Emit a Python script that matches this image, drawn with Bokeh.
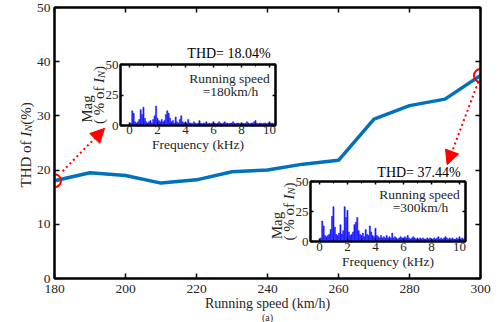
import math
from bokeh.plotting import figure
from bokeh.models import Label, Arrow, NormalHead, LinearAxis, FixedTicker, Range1d, ColumnDataSource
from bokeh.embed import file_html
from bokeh.resources import INLINE

# ---------------- data ----------------
speed = [180, 190, 200, 210, 220, 230, 240, 250, 260, 270, 280, 290, 300]
thd = [18.04, 19.5, 19.0, 17.6, 18.2, 19.7, 20.0, 21.1, 21.8, 29.4, 31.9, 33.1, 37.44]
x_ticks = [180, 200, 220, 240, 260, 280, 300]
y_ticks = [0, 10, 20, 30, 40, 50]

freq_khz = [round(0.1 * i, 1) for i in range(105)]
mag_180 = [0.5, 2, 12, 10, 3, 2, 3, 5, 13, 9,
           15, 6, 3, 2, 3, 4, 2, 5, 8, 16,
           6, 4, 3, 5, 3, 4, 9, 12, 10, 6,
           3, 4, 2, 7, 3, 2, 5, 8, 3, 2,
           3, 2, 5, 2, 2, 1.5, 3, 2, 1.5, 2,
           4, 2, 1.5, 2, 2, 3, 1.5, 2, 1.5, 2,
           3, 2, 1.5, 2, 3, 2, 1.5, 2, 3, 2,
           2, 1.5, 2, 2, 3, 2, 1.5, 2, 2, 1.5,
           2, 2, 1.5, 2, 3, 2, 1.5, 2, 2, 3,
           4, 2, 1.5, 2, 2, 1.5, 2, 2, 1.5, 2,
           3, 2, 2, 1.5, 2]
mag_300 = [0.5, 3, 17, 13, 5, 4, 5, 6, 10, 21,
           29, 12, 6, 5, 7, 14, 6, 9, 29, 20,
           26, 8, 5, 6, 8, 14, 16, 20, 9, 6,
           5, 7, 4, 10, 6, 5, 13, 8, 5, 4,
           11, 5, 4, 3, 5, 3, 4, 3, 5, 3,
           4, 3, 7, 3, 4, 3, 2, 3, 4, 3,
           3, 4, 3, 5, 3, 2, 3, 4, 3, 2,
           3, 2, 3, 2, 3, 2, 2, 3, 2, 3,
           2, 2, 3, 2, 3, 4, 2, 3, 2, 3,
           4, 3, 2, 3, 2, 3, 2, 2, 3, 2,
           4, 2, 3, 2, 3]
inset_x_ticks = [0, 2, 4, 6, 8, 10]
inset_x_minor = [1, 3, 5, 7, 9]
inset_y_ticks = [0, 25, 50]

FONT = "Liberation Serif"
TXT = "#262626"
LINE_BLUE = "#0072BD"
BAR_BLUE = "#1a1aff"
CW, CH = 500, 322

# approximate Times advance widths (per 1000 em) for rich-text layout
W = {" ": 250, "(": 333, ")": 333, "%": 833, "T": 611, "H": 722, "D": 722,
     "o": 500, "f": 333, "I": 333, "N": 667, "M": 889, "a": 444, "g": 500}


def tw(s, size):
    return sum(W.get(c, 500) for c in s) / 1000.0 * size


def style_axis(ax, font_size, standoff, tick_in):
    ax.axis_line_color = "black"
    ax.axis_line_width = 2
    ax.major_tick_line_color = "black"
    ax.major_tick_line_width = 1.5
    ax.major_tick_in = tick_in
    ax.major_tick_out = 0
    ax.minor_tick_line_color = "black"
    ax.minor_tick_line_width = 1
    ax.minor_tick_in = max(1, tick_in - 1)
    ax.minor_tick_out = 0
    ax.major_label_text_font = FONT
    ax.major_label_text_font_size = font_size
    ax.major_label_text_color = TXT
    ax.major_label_standoff = standoff
    ax.axis_label_text_font = FONT
    ax.axis_label_text_font_style = "normal"
    ax.axis_label_text_color = TXT


def hidden_axis(ticker, tick_in):
    ax = LinearAxis(ticker=ticker)
    style_axis(ax, "0px", 0, tick_in)
    ax.major_label_text_alpha = 0
    return ax


# ---------------- main figure ----------------
FL, FR, FT, FB = 54, 480, 7, 278
p = figure(width=CW, height=CH, x_range=Range1d(180, 300), y_range=Range1d(0, 50),
           output_backend="svg", toolbar_location=None,
           min_border_left=FL, min_border_right=CW - FR,
           min_border_top=FT, min_border_bottom=CH - FB)
p.grid.visible = False
p.background_fill_color = "white"
p.border_fill_color = "white"
p.outline_line_color = "black"
p.outline_line_width = 2

p.xaxis.ticker = FixedTicker(ticks=x_ticks)
p.yaxis.ticker = FixedTicker(ticks=y_ticks)
style_axis(p.xaxis[0], "13.5px", 6, 5)
style_axis(p.yaxis[0], "13.5px", 4, 5)
p.xaxis.axis_label = "Running speed (km/h)"
p.xaxis.axis_label_text_font_size = "14px"
p.xaxis.axis_label_standoff = 0
p.add_layout(hidden_axis(FixedTicker(ticks=x_ticks), 5), "above")
p.add_layout(hidden_axis(FixedTicker(ticks=y_ticks), 5), "right")

src = ColumnDataSource(dict(speed=speed, thd=thd))
p.line("speed", "thd", source=src, line_color=LINE_BLUE, line_width=3.5)

hl = ColumnDataSource(dict(speed=[speed[0], speed[-1]], thd=[thd[0], thd[-1]]))
p.scatter("speed", "thd", source=hl, marker="circle", size=13, fill_color=None,
          line_color="red", line_width=2)

arrow_starts = [(182.3, 19.8), (299.4, 36.3)]
arrow_tips = [(194.1, 27.7), (290.6, 21.0)]
for (xs, ys), (xe, ye) in zip(arrow_starts, arrow_tips):
    p.add_layout(Arrow(x_start=xs, y_start=ys, x_end=xe, y_end=ye,
                       line_color="red", line_width=2, line_dash="2 3",
                       end=NormalHead(size=14, fill_color="red", line_color="red")))


# ---------------- insets (separate roots, absolutely positioned) ----------------
INSETS = [
    # (frame left, frame top, frame w, frame h, tick label standoff)
    (120, 64, 155, 61, 0),
    (310, 181, 155, 60, 1),
]
BL, BR, BT, BB = 44, 5, 20, 30


def make_inset(mags, left, top, fw, fh, tick_standoff):
    f = figure(frame_width=fw, frame_height=fh,
               x_range=Range1d(-0.64, 10.43), y_range=Range1d(0, 50),
               output_backend="svg", toolbar_location=None,
               min_border_left=BL, min_border_right=BR, min_border_top=BT,
               min_border_bottom=BB,
               styles={"position": "absolute", "left": f"{left - BL}px",
                       "top": f"{top - BT}px"})
    f.grid.visible = False
    f.background_fill_color = "white"
    f.border_fill_alpha = 0
    f.outline_line_color = "black"
    f.outline_line_width = 2
    f.xaxis.ticker = FixedTicker(ticks=inset_x_ticks, minor_ticks=inset_x_minor)
    f.yaxis.ticker = FixedTicker(ticks=inset_y_ticks)
    style_axis(f.xaxis[0], "13px", tick_standoff, 3)
    style_axis(f.yaxis[0], "13px", 2, 3)
    f.xaxis.axis_label = "Frequency (kHz)"
    f.xaxis.axis_label_text_font_size = "13.5px"
    f.xaxis.axis_label_standoff = 0
    f.add_layout(hidden_axis(FixedTicker(ticks=inset_x_ticks, minor_ticks=inset_x_minor), 3), "above")
    f.add_layout(hidden_axis(FixedTicker(ticks=inset_y_ticks), 3), "right")

    s = ColumnDataSource(dict(freq=freq_khz, mag=mags))
    f.vbar(x="freq", top="mag", bottom=0, width=0.085, source=s,
           fill_color=BAR_BLUE, line_color=BAR_BLUE, line_width=0.5)
    return f


ins1 = make_inset(mag_180, *INSETS[0])
ins2 = make_inset(mag_300, *INSETS[1])

# ---------------- free text overlay (texts outside plot frames) ----------------
ov = figure(width=CW, height=CH, x_range=Range1d(0, CW), y_range=Range1d(0, CH),
            x_axis_type=None, y_axis_type=None, output_backend="svg",
            toolbar_location=None, min_border=0,
            styles={"position": "absolute", "left": "0px", "top": "0px"})
ov.grid.visible = False
ov.outline_line_color = None
ov.background_fill_alpha = 0
ov.border_fill_alpha = 0


def put(text, px, py, size, color=TXT, align="center", angle=0.0, style="normal"):
    ov.add_layout(Label(x=px, y=CH - py, x_units="screen", y_units="screen",
                        text=text, angle=angle, text_align=align,
                        text_baseline="middle", text_font=FONT,
                        text_font_style=style, text_font_size=f"{size}px",
                        text_color=color))


def rotated_rich(segs, px, py_center):
    total = sum(tw(t, s) for t, s, _, _ in segs)
    y = (CH - py_center) - total / 2.0
    for text, size, italic, shift in segs:
        ov.add_layout(Label(x=px + shift, y=y, x_units="screen", y_units="screen",
                            text=text, angle=math.pi / 2, text_align="left",
                            text_baseline="middle", text_font=FONT,
                            text_font_style="italic" if italic else "normal",
                            text_font_size=f"{size}px", text_color=TXT))
        y += tw(text, size)


# main y-axis label "THD of I_N (%)"
rotated_rich([("THD of ", 15, False, 0), ("I", 15, True, 0),
              ("N", 10.5, True, 3), (" (%)", 15, False, 0)],
             25, (FT + FB) / 2.0)

for (fl, ft, fw, fh, _), spd, val, dthd in zip(INSETS, [speed[0], speed[-1]],
                                            [thd[0], thd[-1]], [11, 9]):
    cx = fl + 109
    put(f"THD= {val:.2f}%", fl + 108.5, ft - dthd, 14, color="black")
    put("Running speed", cx, ft + fh - 47.5, 13.5)
    put(f"={spd}km/h", cx + 1, ft + fh - 34, 13.5)
    put("Mag", fl - 34, ft + fh / 2.0 + 14, 15, angle=math.pi / 2)
    rotated_rich([("( % of ", 15, False, 0), ("I", 15, True, 0),
                  ("N", 10.5, True, 3), (")", 15, False, 0)],
                 fl - 22, ft + fh / 2.0)

put("(a)", 267, 316.5, 10)

open("out.html", "w").write(file_html([p, ins1, ins2, ov], INLINE))
